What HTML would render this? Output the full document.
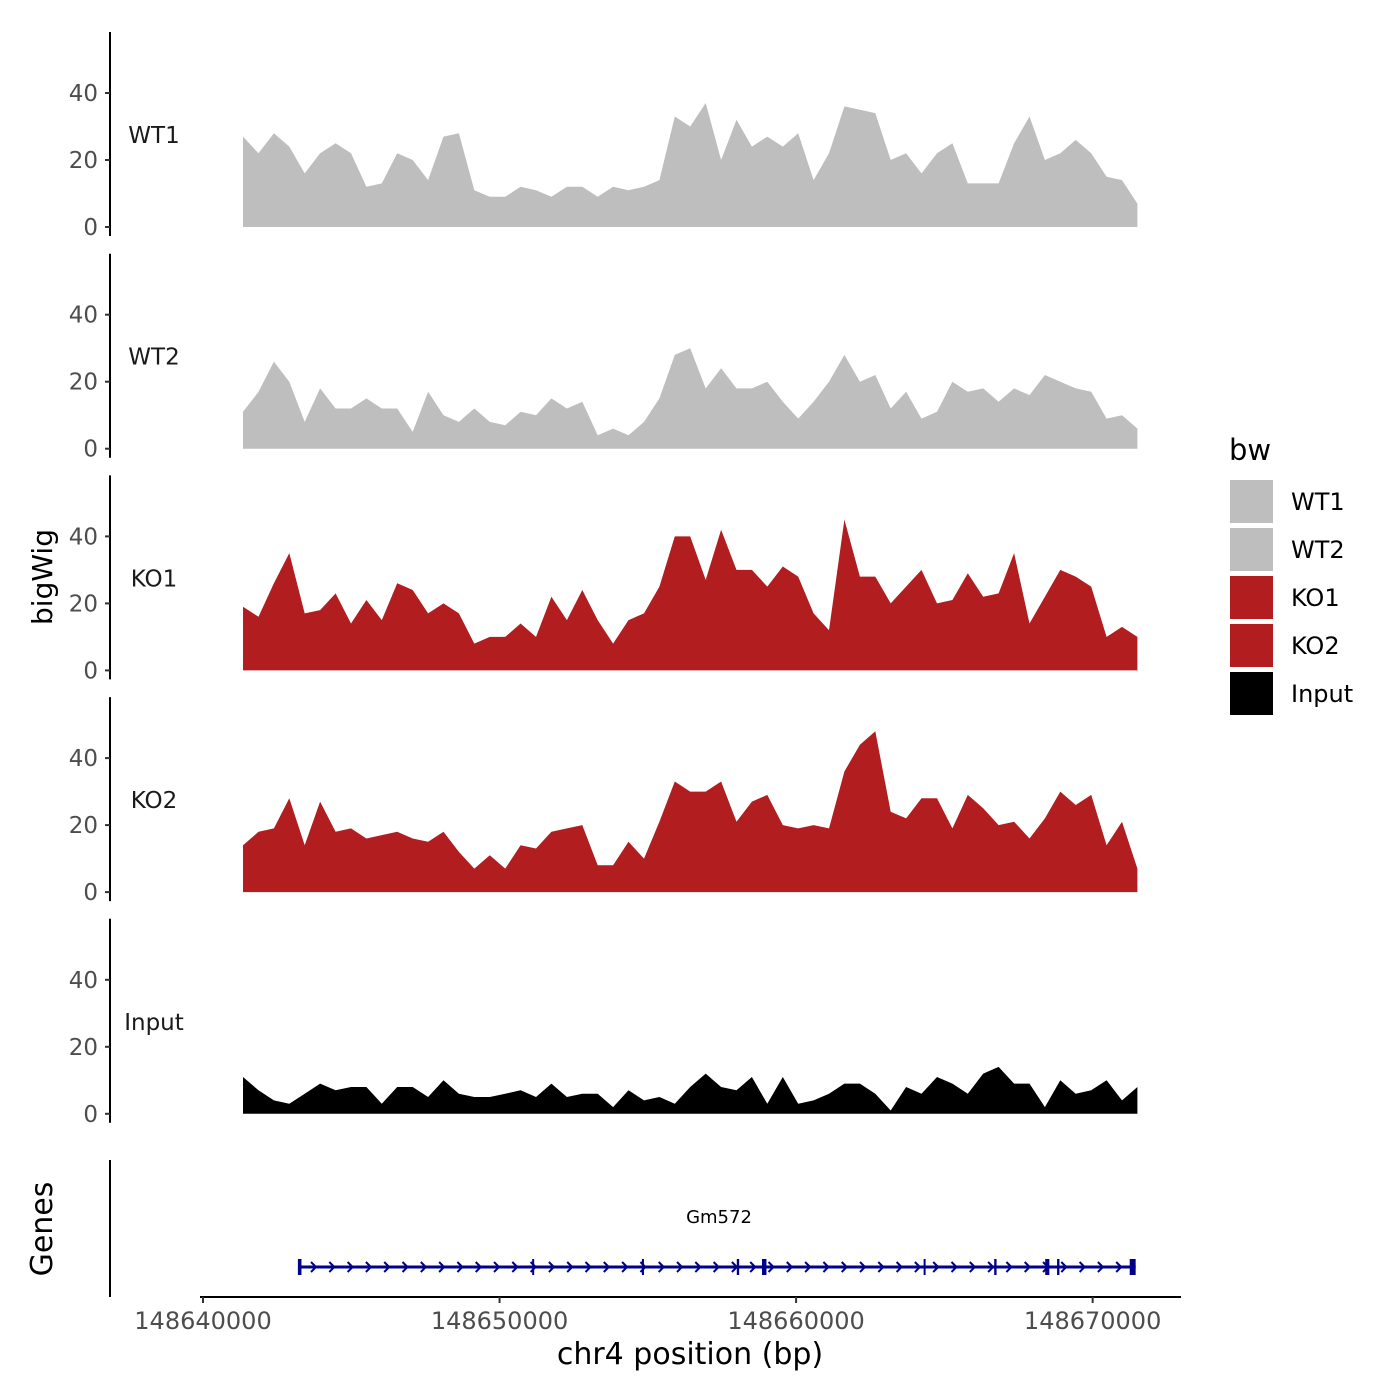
<!DOCTYPE html>
<html><head><meta charset="utf-8">
<style>
html,body{margin:0;padding:0;background:#fff;}
svg{display:block;font-family:"DejaVu Sans","Liberation Sans",sans-serif;}
</style></head>
<body>
<svg id="chart" width="1400" height="1400" viewBox="0 0 1400 1400" xmlns="http://www.w3.org/2000/svg">
<rect width="1400" height="1400" fill="#fff"/>
<g id="tracks"></g>
<g id="genes"></g>
<g id="xaxis"></g>
<text x="0" y="0" transform="translate(52,577) rotate(-90)" text-anchor="middle" font-size="28" fill="#000">bigWig</text>
<text x="0" y="0" transform="translate(52,1229) rotate(-90)" text-anchor="middle" font-size="30" fill="#000">Genes</text>
<text x="690" y="1364" text-anchor="middle" font-size="30" fill="#000">chr4 position (bp)</text>
<g id="legend"></g>
</svg>
<script>
const trackNames = ["WT1","WT2","KO1","KO2","Input"];
const trackColors = ["#bebebe","#bebebe","#b21d1f","#b21d1f","#000000"];
const startPos = 148641350;
const stepBp = 520;
const wt1 = [27,22,28,24,16,22,25,22,12,13,22,20,14,27,28,11,9,9,12,11,9,12,12,9,12,11,12,14,33,30,37,20,32,24,27,24,28,14,22,36,35,34,20,22,16,22,25,13,13,13,25,33,20,22,26,22,15,14,7];
const wt2 = [11,17,26,20,8,18,12,12,15,12,12,5,17,10,8,12,8,7,11,10,15,12,14,4,6,4,8,15,28,30,18,24,18,18,20,14,9,14,20,28,20,22,12,17,9,11,20,17,18,14,18,16,22,20,18,17,9,10,6];
const ko1 = [19,16,26,35,17,18,23,14,21,15,26,24,17,20,17,8,10,10,14,10,22,15,24,15,8,15,17,25,40,40,27,42,30,30,25,31,28,17,12,45,28,28,20,25,30,20,21,29,22,23,35,14,22,30,28,25,10,13,10];
const ko2 = [14,18,19,28,14,27,18,19,16,17,18,16,15,18,12,7,11,7,14,13,18,19,20,8,8,15,10,21,33,30,30,33,21,27,29,20,19,20,19,36,44,48,24,22,28,28,19,29,25,20,21,16,22,30,26,29,14,21,7];
const inputVals = [11,7,4,3,6,9,7,8,8,3,8,8,5,10,6,5,5,6,7,5,9,5,6,6,2,7,4,5,3,8,12,8,7,11,3,11,3,4,6,9,9,6,1,8,6,11,9,6,12,14,9,9,2,10,6,7,10,4,8];
const trackValues = [wt1,wt2,ko1,ko2,inputVals];
const yTicks = [0,20,40];
const xTicks = [148640000,148650000,148660000,148670000];
const xTickLabels = ["148640000","148650000","148660000","148670000"];
const geneName = "Gm572";
const geneStart = 148643270;
const geneEnd = 148671450;
const exonStarts = [148643200,148651100,148654800,148658000,148658850,148664300,148666680,148668400,148668800,148671250];
const exonEnds   = [148643320,148651160,148654870,148658080,148659000,148664340,148666760,148668540,148668880,148671450];

const NS="http://www.w3.org/2000/svg";
function mk(tag, attrs, parent){const e=document.createElementNS(NS,tag);for(const k in attrs)e.setAttribute(k,attrs[k]);parent.appendChild(e);return e;}
function xScale(bp){return 203 + (bp-148640000)*0.029655;}
function yScale(k,v){return 227 + k*221.7 - v*3.35;}

const tracksG=document.getElementById('tracks');
trackNames.forEach((name,k)=>{
  const g=mk('g',{},tracksG);
  
  
  const vals=trackValues[k];
  const y0=yScale(k,0);
  let d='M'+xScale(startPos).toFixed(1)+','+y0.toFixed(1);
  vals.forEach((v,i)=>{d+=' L'+xScale(startPos+i*stepBp).toFixed(1)+','+yScale(k,v).toFixed(1);});
  d+=' L'+xScale(startPos+(vals.length-1)*stepBp).toFixed(1)+','+y0.toFixed(1)+' Z';
  const p=mk('path',{d:d,fill:trackColors[k],stroke:'none'},g);
  
  
  const ax=mk('line',{x1:110,x2:110,y1:y0-195,y2:y0+9,stroke:'#000','stroke-width':2},g);
  
  
  yTicks.forEach(t=>{
    const yy=yScale(k,t);
    const tl=mk('line',{x1:105,x2:110,y1:yy,y2:yy,stroke:'#333','stroke-width':2},g);
    
    
    const tx=mk('text',{x:98,y:yy+8,'text-anchor':'end','font-size':23,fill:'#4d4d4d'},g);
    tx.textContent=t;
    
    
  });
  const lb=mk('text',{x:154,y:y0-84,'text-anchor':'middle','font-size':23,fill:'#1a1a1a'},g);
  lb.textContent=name;
  
  
});

// genes
const gg=document.getElementById('genes');
const gax=mk('line',{x1:110,x2:110,y1:1160,y2:1297,stroke:'#000','stroke-width':2},gg);


const gy=1267;
const gl=mk('line',{x1:xScale(geneStart),x2:xScale(geneEnd),y1:gy,y2:gy,stroke:'#00008b','stroke-width':3},gg);


for(let x=xScale(geneStart)+14;x<xScale(geneEnd)-4;x+=18.3){
  const a=mk('path',{d:`M${(x-3).toFixed(1)},${gy-5} L${(x+2).toFixed(1)},${gy} L${(x-3).toFixed(1)},${gy+5}`,fill:'none',stroke:'#00008b','stroke-width':2},gg);
  
  
}
exonStarts.forEach((s,i)=>{
  const x1=xScale(s),x2=xScale(exonEnds[i]);
  const r=mk('rect',{x:x1,y:gy-8,width:Math.max(2,x2-x1),height:16,fill:'#00008b'},gg);
  
  
});
const gt=mk('text',{x:719,y:1223,'text-anchor':'middle','font-size':18,fill:'#000'},gg);
gt.textContent=geneName;



// x axis
const xg=document.getElementById('xaxis');
const xl=mk('line',{x1:200,x2:1181,y1:1297,y2:1297,stroke:'#000','stroke-width':2},xg);


xTicks.forEach((t,i)=>{
  const x=xScale(t);
  const tl=mk('line',{x1:x,x2:x,y1:1297,y2:1303,stroke:'#333','stroke-width':2},xg);
  
  
  const tx=mk('text',{x:x,y:1329,'text-anchor':'middle','font-size':24,fill:'#4d4d4d'},xg);
  tx.textContent=xTickLabels[i];
  
  
});

// legend
const lg=document.getElementById('legend');
const lt=mk('text',{x:1229,y:460,'font-size':29,fill:'#000'},lg);
lt.textContent='bw';


trackNames.forEach((name,k)=>{
  const y=480+k*48;
  const r=mk('rect',{x:1230,y:y,width:43,height:43,fill:trackColors[k]},lg);
  
  
  const t=mk('text',{x:1291,y:y+30,'font-size':24,fill:'#000'},lg);
  t.textContent=name;
  
  
});
</script>
</body></html>
